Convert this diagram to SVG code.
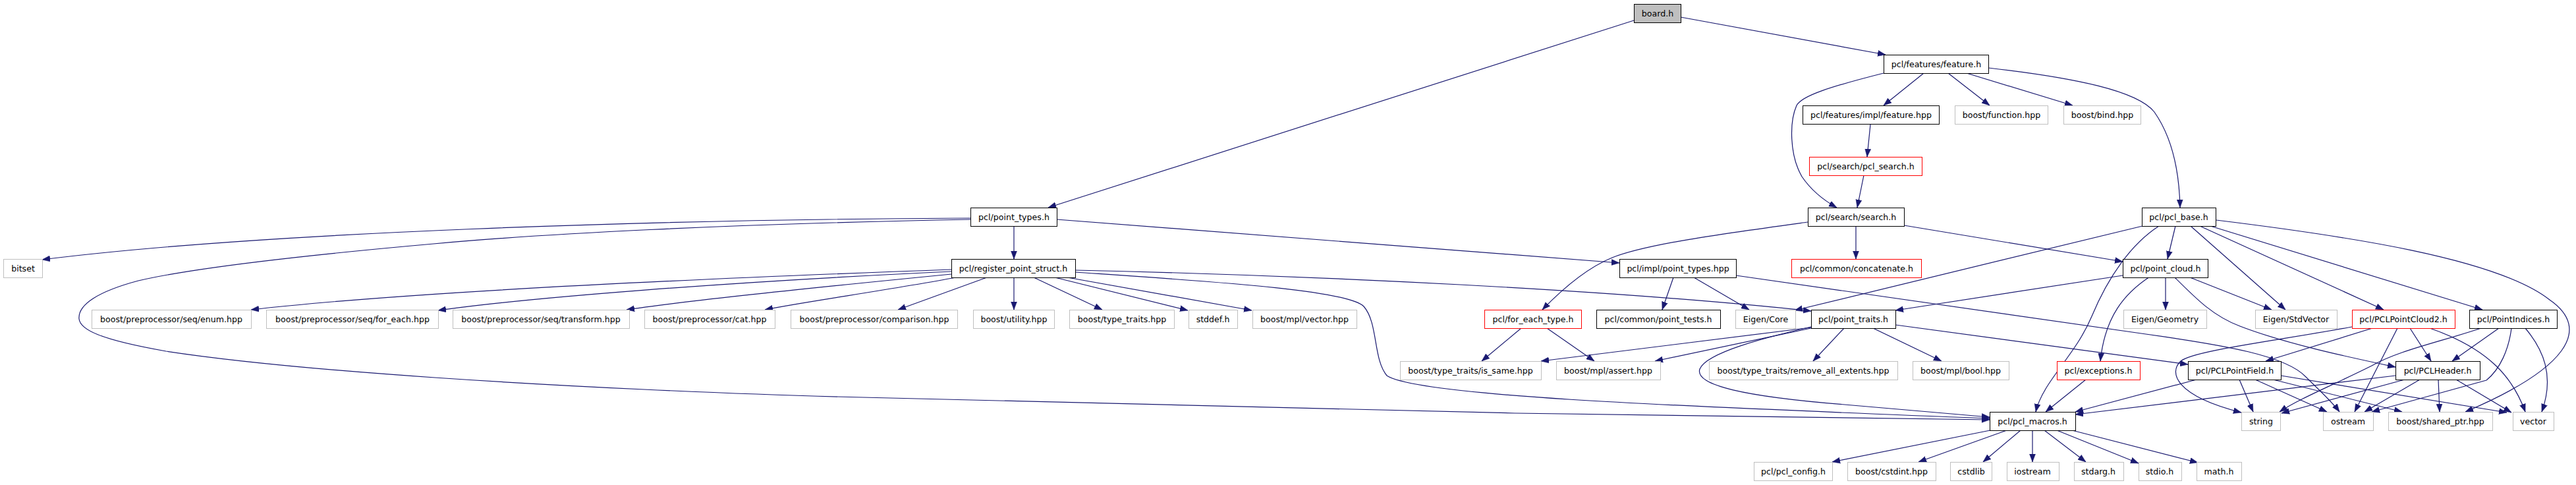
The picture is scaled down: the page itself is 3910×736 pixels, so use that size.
<svg xmlns="http://www.w3.org/2000/svg" width="3910" height="736" viewBox="0 0 3910 736">
<style>
.n rect{fill:#fff;stroke:#000;stroke-width:1}
.root rect{fill:#bfbfbf;stroke:#000;stroke-width:1}
.g rect{fill:#fff;stroke:#bfbfbf;stroke-width:1}
.r rect{fill:#fff;stroke:#f00;stroke-width:1}
text{font-family:"DejaVu Sans","Liberation Sans",sans-serif;font-size:12.6px;text-anchor:middle;fill:#000}
#edges path{fill:none;stroke:#191970;stroke-width:1.2;marker-end:url(#a)}
</style>
<defs>
<marker id="a" markerUnits="userSpaceOnUse" markerWidth="12" markerHeight="10" refX="12" refY="5" orient="auto"><path d="M0,0.5 L12,5 L0,9.5 z" fill="#191970" stroke="#191970" stroke-width="0.5"/></marker>
</defs>
<rect width="3910" height="736" fill="#fff"/>
<g id="edges">
<path d="M2480,31 L1591,315"/>
<path d="M2551,26 L2862,83"/>
<path d="M2920,111 L2859,160"/>
<path d="M2957,111 L3020,160"/>
<path d="M2985,111 L3146,160"/>
<path d="M2859,111 C2780,131 2735,145 2727,160 C2716,185 2716,235 2735,268 C2750,290 2770,305 2788,315"/>
<path d="M3018,103 C3150,118 3245,138 3270,170 C3298,210 3308,265 3309,315"/>
<path d="M2839,189 L2834,238"/>
<path d="M2829,266 L2819,315"/>
<path d="M2817,343 L2817,393"/>
<path d="M2744,337 C2620,354 2500,370 2447,391 C2410,406 2375,435 2341,470"/>
<path d="M2890,342 L3222,397"/>
<path d="M1473,331 C1000,333 400,352 64,394"/>
<path d="M1473,333 C1100,340 820,355 658,370 C500,384 300,405 210,426 C150,442 118,462 120,484 C122,500 150,515 252,533 C350,548 500,562 660,573 C850,586 1100,598 1310,603 C1600,611 1950,620 2300,627 C2600,632 2850,635 3020,637"/>
<path d="M1539,343 L1539,393"/>
<path d="M1604,333 L2458,399"/>
<path d="M1444,409 C1000,425 600,445 381,470"/>
<path d="M1444,412 C1100,428 800,452 665,471"/>
<path d="M1444,416 C1250,435 1050,455 951,470"/>
<path d="M1451,421 C1350,440 1220,458 1161,470"/>
<path d="M1498,421 L1363,470"/>
<path d="M1539,421 L1539,470"/>
<path d="M1569,421 L1673,470"/>
<path d="M1601,421 L1803,471"/>
<path d="M1620,421 L1900,471"/>
<path d="M1632,410 C2000,418 2450,440 2749,472"/>
<path d="M1632,413 C1850,428 2045,440 2070,465 C2092,490 2084,545 2105,570 C2150,600 2500,615 3020,635"/>
<path d="M2540,421 L2523,470"/>
<path d="M2571,421 L2655,470"/>
<path d="M2635,418 L3250,506 C3380,524 3470,540 3500,572 C3520,592 3540,610 3551,625"/>
<path d="M3222,418 L2877,471"/>
<path d="M3263,420 C3225,445 3195,480 3188,548"/>
<path d="M3287,421 L3287,470"/>
<path d="M3324,421 L3448,470"/>
<path d="M3301,421 C3335,455 3360,480 3400,495 C3470,522 3570,543 3636,557"/>
<path d="M3252,343 L2724,471"/>
<path d="M3277,343 C3235,370 3200,420 3175,480 C3150,540 3100,580 3090,625"/>
<path d="M3302,343 L3290,393"/>
<path d="M3325,343 L3469,470"/>
<path d="M3339,343 L3618,470"/>
<path d="M3355,343 L3768,470"/>
<path d="M3364,334 C3560,358 3790,392 3870,455 C3935,500 3895,560 3742,625"/>
<path d="M2309,498 L2249,548"/>
<path d="M2348,498 L2420,548"/>
<path d="M2799,498 L2752,548"/>
<path d="M2843,498 L2947,548"/>
<path d="M2749,497 L2339,548"/>
<path d="M2749,498 L2512,548"/>
<path d="M2749,496 C2680,512 2590,535 2580,560 C2572,585 2650,602 2800,614 C2900,622 2960,628 3020,633"/>
<path d="M2877,493 L3321,553"/>
<path d="M3166,576 L3105,625"/>
<path d="M3021,653 L2781,701"/>
<path d="M3046,653 L2912,701"/>
<path d="M3067,653 L3010,701"/>
<path d="M3085,653 L3085,701"/>
<path d="M3103,653 L3166,701"/>
<path d="M3122,653 L3246,703"/>
<path d="M3145,653 L3336,702"/>
<path d="M3570,496 C3450,518 3330,532 3310,548 C3292,565 3300,600 3402,626"/>
<path d="M3601,498 L3439,548"/>
<path d="M3639,498 L3574,625"/>
<path d="M3658,498 L3690,548"/>
<path d="M3688,498 C3780,530 3815,575 3833,625"/>
<path d="M3766,498 C3700,520 3640,532 3600,555 C3540,585 3490,605 3460,625"/>
<path d="M3793,498 L3722,548"/>
<path d="M3812,498 C3808,530 3795,560 3774,577 L3600,625"/>
<path d="M3833,498 C3860,530 3878,570 3858,625"/>
<path d="M3636,570 L3150,629"/>
<path d="M3650,576 L3463,627"/>
<path d="M3673,576 L3589,625"/>
<path d="M3701,576 L3703,625"/>
<path d="M3728,576 L3812,626"/>
<path d="M3334,576 L3150,625"/>
<path d="M3399,576 L3420,625"/>
<path d="M3423,576 L3532,625"/>
<path d="M3450,576 L3646,625"/>
<path d="M3462,570 L3805,626"/>
</g>
<g id="n_board" class="root"><rect x="2480.5" y="6.5" width="71" height="28"/><text x="2516" y="24.5">board.h</text></g>
<g id="n_feature" class="n"><rect x="2859.5" y="83.5" width="159" height="28"/><text x="2939" y="101.5">pcl/features/feature.h</text></g>
<g id="n_feature_hpp" class="n"><rect x="2736.5" y="160.5" width="207" height="28"/><text x="2840" y="178.5">pcl/features/impl/feature.hpp</text></g>
<g id="n_function" class="g"><rect x="2967.5" y="160.5" width="141" height="28"/><text x="3038" y="178.5">boost/function.hpp</text></g>
<g id="n_bind" class="g"><rect x="3132.5" y="160.5" width="117" height="28"/><text x="3191" y="178.5">boost/bind.hpp</text></g>
<g id="n_pcl_search" class="r"><rect x="2746.5" y="238.5" width="171" height="28"/><text x="2832" y="256.5">pcl/search/pcl_search.h</text></g>
<g id="n_point_types" class="n"><rect x="1473.5" y="315.5" width="131" height="28"/><text x="1539" y="333.5">pcl/point_types.h</text></g>
<g id="n_search" class="n"><rect x="2744.5" y="315.5" width="146" height="28"/><text x="2817" y="333.5">pcl/search/search.h</text></g>
<g id="n_pcl_base" class="n"><rect x="3251.5" y="315.5" width="112" height="28"/><text x="3307" y="333.5">pcl/pcl_base.h</text></g>
<g id="n_bitset" class="g"><rect x="5.5" y="393.5" width="59" height="28"/><text x="35" y="411.5">bitset</text></g>
<g id="n_register" class="n"><rect x="1444.5" y="393.5" width="188" height="28"/><text x="1538" y="411.5">pcl/register_point_struct.h</text></g>
<g id="n_impl_point_types" class="n"><rect x="2458.5" y="393.5" width="177" height="28"/><text x="2547" y="411.5">pcl/impl/point_types.hpp</text></g>
<g id="n_concatenate" class="r"><rect x="2719.5" y="393.5" width="197" height="28"/><text x="2818" y="411.5">pcl/common/concatenate.h</text></g>
<g id="n_point_cloud" class="n"><rect x="3222.5" y="393.5" width="129" height="28"/><text x="3287" y="411.5">pcl/point_cloud.h</text></g>
<g id="n_enum" class="g"><rect x="139.5" y="470.5" width="242" height="28"/><text x="260" y="488.5">boost/preprocessor/seq/enum.hpp</text></g>
<g id="n_for_each" class="g"><rect x="404.5" y="470.5" width="261" height="28"/><text x="535" y="488.5">boost/preprocessor/seq/for_each.hpp</text></g>
<g id="n_transform" class="g"><rect x="687.5" y="470.5" width="268" height="28"/><text x="821" y="488.5">boost/preprocessor/seq/transform.hpp</text></g>
<g id="n_cat" class="g"><rect x="978.5" y="470.5" width="198" height="28"/><text x="1077" y="488.5">boost/preprocessor/cat.hpp</text></g>
<g id="n_comparison" class="g"><rect x="1200.5" y="470.5" width="253" height="28"/><text x="1327" y="488.5">boost/preprocessor/comparison.hpp</text></g>
<g id="n_utility" class="g"><rect x="1477.5" y="470.5" width="123" height="28"/><text x="1539" y="488.5">boost/utility.hpp</text></g>
<g id="n_type_traits" class="g"><rect x="1623.5" y="470.5" width="159" height="28"/><text x="1703" y="488.5">boost/type_traits.hpp</text></g>
<g id="n_stddef" class="g"><rect x="1804.5" y="470.5" width="74" height="28"/><text x="1841" y="488.5">stddef.h</text></g>
<g id="n_mpl_vector" class="g"><rect x="1901.5" y="470.5" width="158" height="28"/><text x="1980" y="488.5">boost/mpl/vector.hpp</text></g>
<g id="n_for_each_type" class="r"><rect x="2253.5" y="470.5" width="147" height="28"/><text x="2327" y="488.5">pcl/for_each_type.h</text></g>
<g id="n_point_tests" class="n"><rect x="2423.5" y="470.5" width="188" height="28"/><text x="2517" y="488.5">pcl/common/point_tests.h</text></g>
<g id="n_eigen_core" class="g"><rect x="2634.5" y="470.5" width="91" height="28"/><text x="2680" y="488.5">Eigen/Core</text></g>
<g id="n_point_traits" class="n"><rect x="2749.5" y="470.5" width="128" height="28"/><text x="2813" y="488.5">pcl/point_traits.h</text></g>
<g id="n_eigen_geometry" class="g"><rect x="3223.5" y="470.5" width="126" height="28"/><text x="3286" y="488.5">Eigen/Geometry</text></g>
<g id="n_eigen_stdvector" class="g"><rect x="3423.5" y="470.5" width="124" height="28"/><text x="3485" y="488.5">Eigen/StdVector</text></g>
<g id="n_pclpointcloud2" class="r"><rect x="3570.5" y="470.5" width="156" height="28"/><text x="3648" y="488.5">pcl/PCLPointCloud2.h</text></g>
<g id="n_pointindices" class="n"><rect x="3748.5" y="470.5" width="133" height="28"/><text x="3815" y="488.5">pcl/PointIndices.h</text></g>
<g id="n_is_same" class="g"><rect x="2125.5" y="548.5" width="214" height="28"/><text x="2232" y="566.5">boost/type_traits/is_same.hpp</text></g>
<g id="n_mpl_assert" class="g"><rect x="2362.5" y="548.5" width="158" height="28"/><text x="2441" y="566.5">boost/mpl/assert.hpp</text></g>
<g id="n_remove_all_extents" class="g"><rect x="2594.5" y="548.5" width="286" height="28"/><text x="2737" y="566.5">boost/type_traits/remove_all_extents.hpp</text></g>
<g id="n_mpl_bool" class="g"><rect x="2903.5" y="548.5" width="146" height="28"/><text x="2976" y="566.5">boost/mpl/bool.hpp</text></g>
<g id="n_exceptions" class="r"><rect x="3122.5" y="548.5" width="126" height="28"/><text x="3185" y="566.5">pcl/exceptions.h</text></g>
<g id="n_pclpointfield" class="n"><rect x="3321.5" y="548.5" width="141" height="28"/><text x="3392" y="566.5">pcl/PCLPointField.h</text></g>
<g id="n_pclheader" class="n"><rect x="3636.5" y="548.5" width="128" height="28"/><text x="3700" y="566.5">pcl/PCLHeader.h</text></g>
<g id="n_pcl_macros" class="n"><rect x="3020.5" y="625.5" width="130" height="28"/><text x="3085" y="643.5">pcl/pcl_macros.h</text></g>
<g id="n_string" class="g"><rect x="3402.5" y="625.5" width="59" height="28"/><text x="3432" y="643.5">string</text></g>
<g id="n_ostream" class="g"><rect x="3526.5" y="625.5" width="76" height="28"/><text x="3564" y="643.5">ostream</text></g>
<g id="n_shared_ptr" class="g"><rect x="3625.5" y="625.5" width="158" height="28"/><text x="3704" y="643.5">boost/shared_ptr.hpp</text></g>
<g id="n_vector" class="g"><rect x="3814.5" y="625.5" width="62" height="28"/><text x="3845" y="643.5">vector</text></g>
<g id="n_pcl_config" class="g"><rect x="2662.5" y="701.5" width="119" height="28"/><text x="2722" y="719.5">pcl/pcl_config.h</text></g>
<g id="n_cstdint" class="g"><rect x="2804.5" y="701.5" width="134" height="28"/><text x="2871" y="719.5">boost/cstdint.hpp</text></g>
<g id="n_cstdlib" class="g"><rect x="2960.5" y="701.5" width="63" height="28"/><text x="2992" y="719.5">cstdlib</text></g>
<g id="n_iostream" class="g"><rect x="3046.5" y="701.5" width="79" height="28"/><text x="3085" y="719.5">iostream</text></g>
<g id="n_stdarg" class="g"><rect x="3148.5" y="701.5" width="75" height="28"/><text x="3185" y="719.5">stdarg.h</text></g>
<g id="n_stdio" class="g"><rect x="3246.5" y="701.5" width="65" height="28"/><text x="3278" y="719.5">stdio.h</text></g>
<g id="n_math" class="g"><rect x="3334.5" y="701.5" width="68" height="28"/><text x="3368" y="719.5">math.h</text></g>
</svg>
